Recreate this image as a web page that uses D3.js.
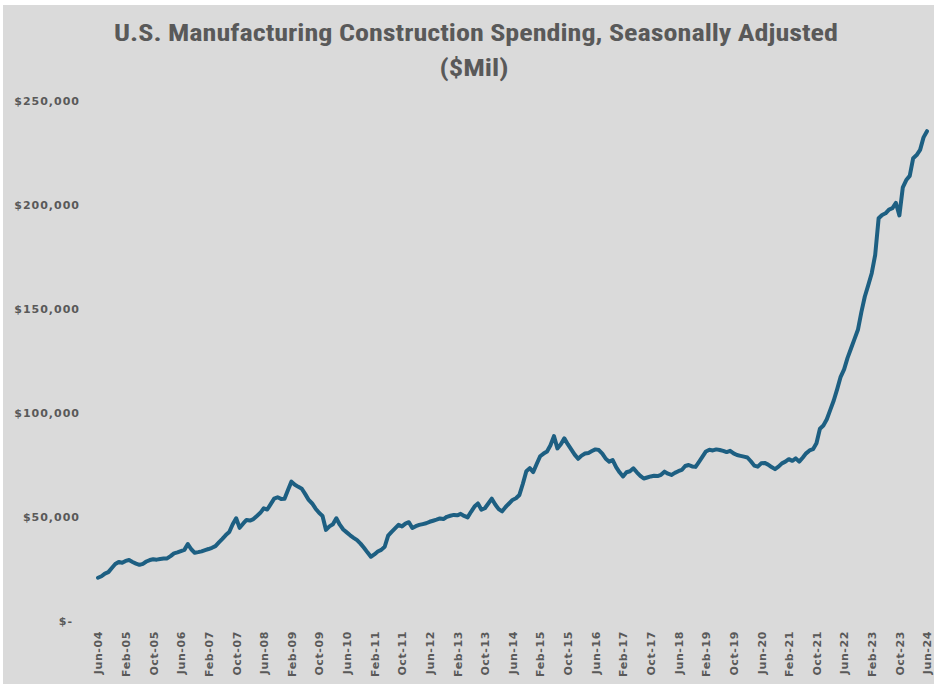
<!DOCTYPE html>
<html>
<head>
<meta charset="utf-8">
<script src="https://cdn.jsdelivr.net/npm/d3@7"></script>
<style>
  html, body { margin: 0; padding: 0; background: #ffffff; }
  svg { display: block; }
</style>
</head>
<body>
<svg id="chart" width="934" height="684"></svg>
<script>
// ---------- DATA ----------
const title1 = "U.S. Manufacturing Construction Spending, Seasonally Adjusted";
const title2 = "($Mil)";
const monthNames = ["Jan","Feb","Mar","Apr","May","Jun","Jul","Aug","Sep","Oct","Nov","Dec"];
const startYear = 2004, startMonth = 5; // Jun-04
const yTicks = [0, 50000, 100000, 150000, 200000, 250000];
const yTickLabels = ["$-", "$50,000", "$100,000", "$150,000", "$200,000", "$250,000"];

const v2004 = [20800, 21500, 22800, 23500, 25500, 27400, 28400];
const v2005 = [28000, 28900, 29300, 28400, 27600, 27000, 27500, 28600, 29300, 29700, 29500, 29800];
const v2006 = [30000, 30100, 31200, 32500, 33000, 33600, 34200, 37000, 34500, 32800, 33100, 33500];
const v2007 = [34100, 34600, 35200, 36000, 37800, 39500, 41300, 42800, 46500, 49400, 44800, 46800];
const v2008 = [48600, 48300, 49000, 50500, 52000, 54200, 53600, 56200, 58800, 59500, 58700, 58800];
const v2009 = [63000, 67000, 65500, 64500, 63600, 61000, 58200, 56500, 54000, 52000, 50500, 43800];
const v2010 = [45500, 46500, 49400, 46300, 44000, 42600, 41200, 40000, 38900, 37200, 35200, 33000];
const v2011 = [30900, 32000, 33400, 34200, 35700, 41000, 42800, 44500, 46200, 45500, 46800, 47500];
const v2012 = [44700, 45600, 46200, 46600, 47000, 47700, 48200, 48700, 49300, 49000, 50100, 50600];
const v2013 = [51000, 50800, 51500, 50500, 49800, 52500, 55000, 56500, 53500, 54200, 56500, 58800];
const v2014 = [56000, 53800, 52700, 54800, 56500, 58200, 59000, 60600, 66000, 72000, 73500, 71600];
const v2015 = [75500, 79200, 80500, 81500, 84500, 88900, 83000, 85000, 87800, 85000, 82500, 80000];
const v2016 = [78000, 79500, 80500, 80800, 81700, 82500, 82200, 80500, 78000, 76600, 77400, 74000];
const v2017 = [71500, 69500, 71500, 72000, 73400, 71500, 69800, 68500, 69000, 69500, 69800, 69700];
const v2018 = [70300, 71800, 70800, 70200, 71200, 72000, 72600, 74500, 75000, 74300, 74100, 76500];
const v2019 = [79000, 81500, 82300, 82000, 82500, 82200, 81800, 81200, 81800, 80600, 79800, 79400];
const v2020 = [79000, 78600, 76800, 74700, 74200, 75800, 76000, 75200, 74000, 73000, 74200, 75800];
const v2021 = [76600, 77800, 77000, 78200, 76600, 78500, 80600, 82000, 82600, 85500, 92400, 94000];
const v2022 = [97000, 101500, 106000, 111500, 117400, 121000, 126500, 131000, 135500, 140000, 148500, 156000];
const v2023 = [161500, 167200, 176000, 193600, 195200, 196000, 197800, 198500, 201000, 195000, 208500, 212000];
const v2024 = [214000, 222500, 224000, 226500, 232500, 235500];

const values = [].concat(v2004, v2005, v2006, v2007, v2008, v2009, v2010, v2011, v2012, v2013,
  v2014, v2015, v2016, v2017, v2018, v2019, v2020, v2021, v2022, v2023, v2024);

const categories = values.map((_, i) => {
  const t = startMonth + i;
  const y = startYear + Math.floor(t / 12);
  return monthNames[t % 12] + "-" + String(y % 100).padStart(2, "0");
});
const xLabelEvery = 8;

// ---------- DRAW ----------
const svg = d3.select("#chart");
const W = 934, H = 684;

svg.append("rect").attr("x", 0).attr("y", 0).attr("width", W).attr("height", H).attr("fill", "#ffffff");
svg.append("rect").attr("x", 3).attr("y", 5).attr("width", W - 3).attr("height", H - 5).attr("fill", "#dadada");

const textColor = "#595959";
const titleFont = "'Liberation Sans Narrow', 'Roboto Condensed', Arial, sans-serif";

svg.append("text")
  .attr("x", 476).attr("y", 41)
  .attr("text-anchor", "middle")
  .attr("font-family", titleFont)
  .attr("font-weight", "bold")
  .attr("font-size", 24)
  .attr("fill", textColor)
  .attr("textLength", 724)
  .attr("lengthAdjust", "spacingAndGlyphs")
  .text(title1);

svg.append("text")
  .attr("x", 474).attr("y", 76)
  .attr("text-anchor", "middle")
  .attr("font-family", titleFont)
  .attr("font-weight", "bold")
  .attr("font-size", 24)
  .attr("fill", textColor)
  .attr("textLength", 69)
  .attr("lengthAdjust", "spacingAndGlyphs")
  .text(title2);

const x = d3.scalePoint().domain(categories).range([98, 927]);
const y = d3.scaleLinear().domain([0, 250000]).range([621, 101]);

// Y axis labels
const yAxis = d3.axisLeft(y).tickValues(yTicks).tickSize(0).tickPadding(0)
  .tickFormat((d, i) => yTickLabels[i]);
const gy = svg.append("g").attr("transform", "translate(80,0)").call(yAxis);
gy.select(".domain").remove();
gy.selectAll("text")
  .attr("font-family", "'DejaVu Sans', Arial, sans-serif")
  .attr("font-size", 11)
  .attr("font-weight", "bold")
  .attr("letter-spacing", 1)
  .attr("fill", textColor)
  .attr("dx", d => d === 0 ? -7 : 0);

// X axis labels
const xAxis = d3.axisBottom(x)
  .tickValues(categories.filter((_, i) => i % xLabelEvery === 0))
  .tickSize(0).tickPadding(0);
const gx = svg.append("g").attr("transform", "translate(0,631)").call(xAxis);
gx.select(".domain").remove();
gx.selectAll("text")
  .attr("font-family", "'DejaVu Sans', Arial, sans-serif")
  .attr("font-size", 11)
  .attr("font-weight", "bold")
  .attr("letter-spacing", 0.6)
  .attr("fill", textColor)
  .attr("text-anchor", "end")
  .attr("transform", "rotate(-90)")
  .attr("x", 0).attr("y", 0)
  .attr("dx", 0).attr("dy", "0.35em");

// Line
const line = d3.line()
  .x((d, i) => x(categories[i]))
  .y(d => y(d))
  .curve(d3.curveLinear);

svg.append("path")
  .datum(values)
  .attr("fill", "none")
  .attr("stroke", "#1d5f82")
  .attr("stroke-width", 4)
  .attr("stroke-linejoin", "round")
  .attr("stroke-linecap", "round")
  .attr("d", line);
</script>
</body>
</html>
